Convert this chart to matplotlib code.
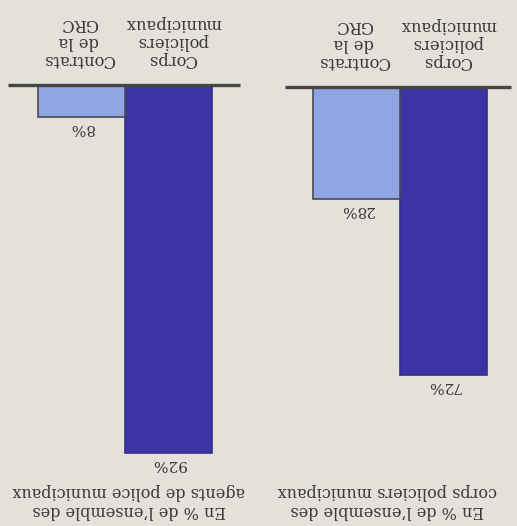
import numpy as np
import matplotlib
matplotlib.use("Agg")
from matplotlib import pyplot as plt

# Donnees (image retournee a 180 degres dans la reference)
categories = ["Corps\npoliciers\nmunicipaux", "Contrats\nde la\nGRC"]
agents = [92, 8]
corps = [72, 28]
titres = ["En % de l’ensemble des\nagents de police municipaux",
          "En % de l’ensemble des\ncorps policiers municipaux"]

couleurs = ["#3b34a6", "#8fa4e2"]
bords = ["#34308a", "#4a4a52"]
fond = "#e4e0da"
texte = "#3a3a3a"

W, H = 517, 526
fig = plt.figure(figsize=(W / 100, H / 100), dpi=100, facecolor=fond)

# chaque panneau : (valeurs, titre, pixel gauche, pixel droit, base y, centre barre 0, ligne de base)
panneaux = [
    (agents, titres[0], 0, 258, 85, 168.5, (8, 240)),
    (corps, titres[1], 258, 517, 87, 443.5, (285, 511)),
]
px_par_pct = 4.0
px_par_barre = 87.0

for valeurs, titre, p0, p1, base, c0, ligne in panneaux:
    ax = fig.add_axes([p0 / W, 0, (p1 - p0) / W, 1])
    ax.set_facecolor(fond)
    ax.set_xlim((c0 - p0) / px_par_barre, (c0 - p1) / px_par_barre)
    ax.set_ylim((H - base) / px_par_pct, -base / px_par_pct)
    for s in ax.spines.values():
        s.set_visible(False)
    ax.set_xticks([])
    ax.set_yticks([])

    x = np.arange(len(valeurs))
    ax.bar(x, valeurs, width=1.0, color=couleurs, edgecolor=bords, linewidth=1.2, zorder=2)

    # ligne de base
    ax.plot([(c0 - ligne[0]) / px_par_barre, (c0 - ligne[1]) / px_par_barre], [0, 0],
            color="#454545", lw=2.4, solid_capstyle="butt", zorder=3)

    for i, v in enumerate(valeurs):
        ax.text(x[i], v + 2.8, f"{v}%", rotation=180, ha="center", va="center",
                fontsize=11, family="DejaVu Serif", color=texte)

    for i, cat in enumerate(categories):
        ax.text(x[i] - 0.05 if i == 0 else x[i] + 0.03, -10.8, cat, rotation=180,
                ha="center", va="center", multialignment="center",
                fontsize=11.8, family="DejaVu Serif", color=texte, linespacing=1.08)

    ax.text(((c0 - p0) + (c0 - p1)) / 2 / px_par_barre, (501 - base) / px_par_pct, titre,
            rotation=180, ha="center", va="center", multialignment="center",
            fontsize=11.5, family="DejaVu Serif", color=texte, linespacing=1.1)

fig.savefig("out.png", dpi=100, facecolor=fond)
